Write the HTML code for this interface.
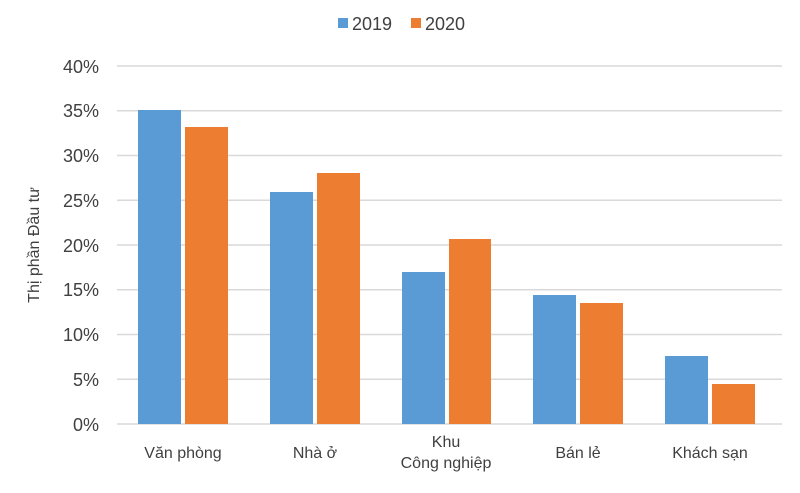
<!DOCTYPE html>
<html><head><meta charset="utf-8"><style>body{margin:0;background:#fff}</style></head><body>
<svg width="800" height="488" xmlns="http://www.w3.org/2000/svg" font-family="Liberation Sans, sans-serif">
<rect width="800" height="488" fill="#fff"/>
<g stroke="#d9d9d9" stroke-width="1.5">
<line x1="117" x2="782" y1="66" y2="66"/><line x1="117" x2="782" y1="110.75" y2="110.75"/>
<line x1="117" x2="782" y1="155.5" y2="155.5"/><line x1="117" x2="782" y1="200.25" y2="200.25"/>
<line x1="117" x2="782" y1="245" y2="245"/><line x1="117" x2="782" y1="289.75" y2="289.75"/>
<line x1="117" x2="782" y1="334.5" y2="334.5"/><line x1="117" x2="782" y1="379.25" y2="379.25"/>
<line x1="117" x2="782" y1="424" y2="424"/></g>
<g font-size="18" fill="#404040" text-anchor="end">
<text x="99" y="73">40%</text><text x="99" y="117">35%</text><text x="99" y="162">30%</text>
<text x="99" y="207">25%</text><text x="99" y="252">20%</text><text x="99" y="296">15%</text>
<text x="99" y="341">10%</text><text x="99" y="386">5%</text><text x="99" y="431">0%</text></g>
<text transform="translate(39,245) rotate(-90)" font-size="16" fill="#404040" text-anchor="middle">Thị phần Đầu tư</text>
<g fill="#5b9bd5">
<rect x="138" y="110" width="43" height="314"/><rect x="270" y="192" width="43" height="232"/>
<rect x="402" y="272" width="43" height="152"/><rect x="533" y="295" width="43" height="129"/>
<rect x="665" y="356" width="43" height="68"/></g>
<g fill="#ed7d31">
<rect x="185" y="127" width="43" height="297"/><rect x="317" y="173" width="43" height="251"/>
<rect x="449" y="239" width="42" height="185"/><rect x="580" y="303" width="43" height="121"/>
<rect x="712" y="384" width="43" height="40"/></g>
<g font-size="16" fill="#404040" text-anchor="middle">
<text x="183" y="458">Văn phòng</text><text x="315" y="458">Nhà ở</text>
<text x="446" y="447">Khu</text><text x="446" y="468">Công nghiệp</text>
<text x="578" y="458">Bán lẻ</text><text x="710" y="458">Khách sạn</text></g>
<rect x="338" y="18" width="10" height="10" fill="#5b9bd5"/>
<text x="352" y="30" font-size="18" fill="#404040">2019</text>
<rect x="411" y="18" width="10" height="10" fill="#ed7d31"/>
<text x="425" y="30" font-size="18" fill="#404040">2020</text>
</svg>
</body></html>
